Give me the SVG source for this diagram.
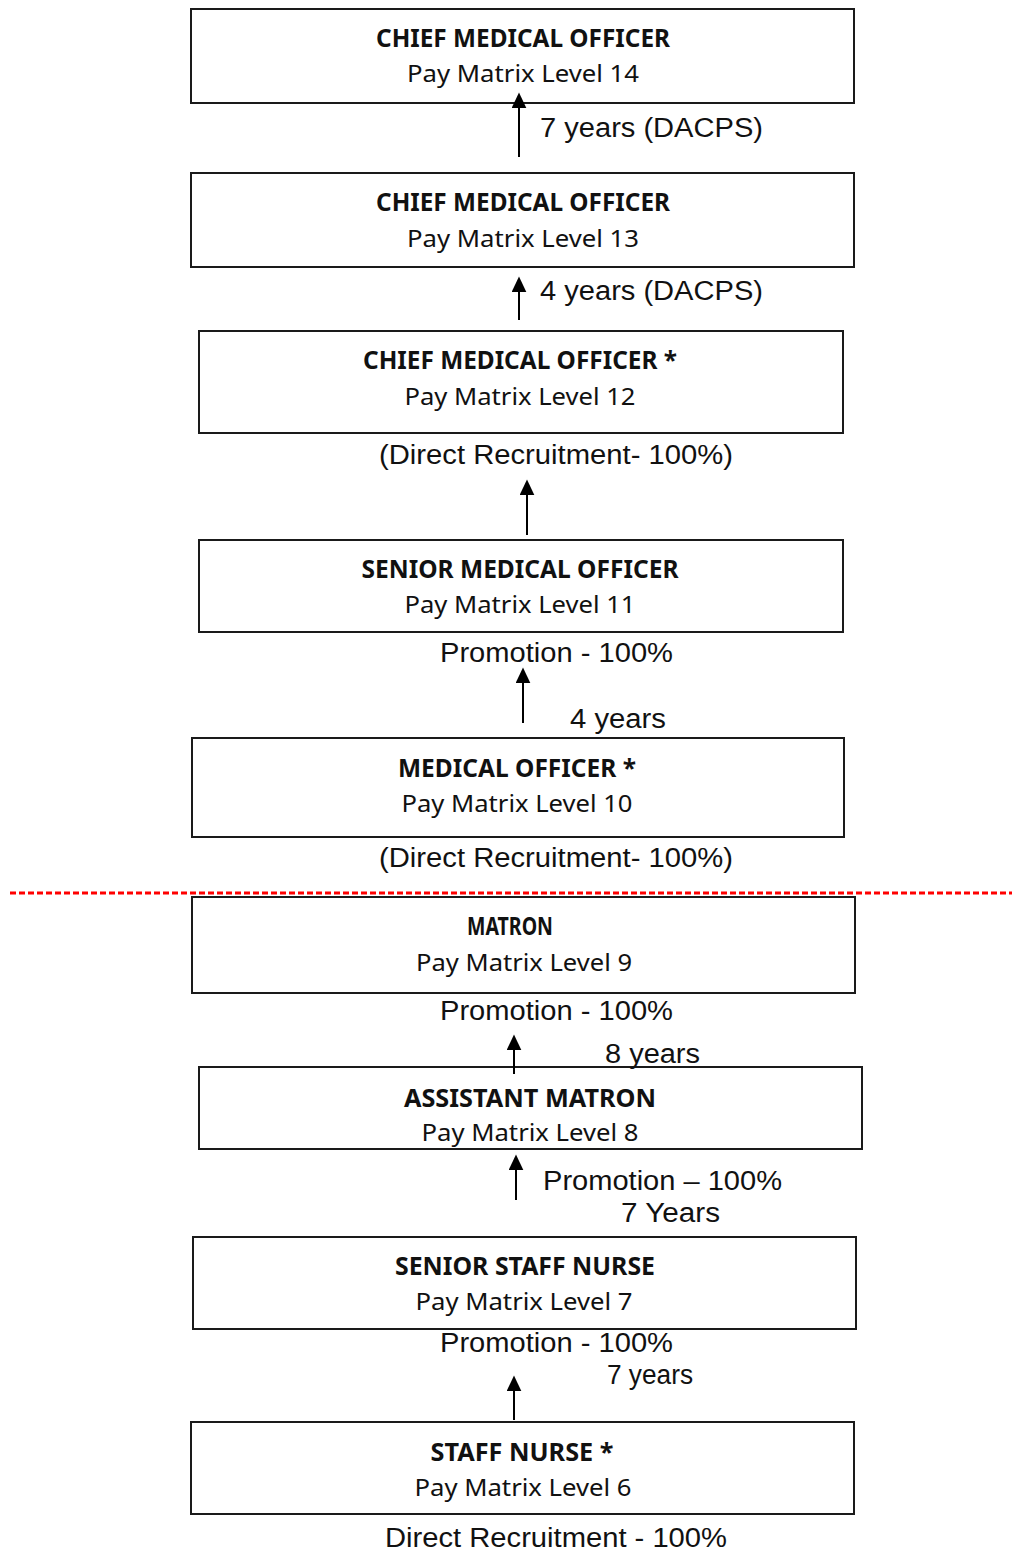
<svg xmlns="http://www.w3.org/2000/svg" width="1012" height="1552" viewBox="0 0 1012 1552">
<style>
.box{fill:#fff;stroke:#1a1a1a;stroke-width:2}
.t{font-family:"Noto Sans","Open Sans",sans-serif;font-weight:bold;font-size:25px;text-anchor:middle;fill:#111}
.s{font-family:"Noto Sans","Open Sans",sans-serif;font-size:23px;text-anchor:middle;fill:#111}
.l{font-family:"Liberation Sans",Arial,sans-serif;font-size:27px;fill:#111}
.c{stroke:#000;stroke-width:2;fill:none;marker-end:url(#ah)}
</style>
<defs>
<marker id="ah" viewBox="0 0 10 10" refX="4" refY="5" markerWidth="8" markerHeight="7.5" orient="auto" markerUnits="strokeWidth" preserveAspectRatio="none">
<path d="M0,0 L10,5 L0,10 z" fill="#000"/>
</marker>
</defs>
<rect width="1012" height="1552" fill="#fff"/>
<line x1="10" y1="893" x2="1012" y2="893" stroke="#f00" stroke-width="3" stroke-dasharray="6,3"/>
<g id="n14"><rect class="box" x="191" y="9" width="663" height="94"/>
<text class="t" x="523" y="47" textLength="294" lengthAdjust="spacingAndGlyphs">CHIEF MEDICAL OFFICER</text>
<text class="s" x="523" y="82" textLength="232" lengthAdjust="spacingAndGlyphs">Pay Matrix Level 14</text></g>
<g id="n13"><rect class="box" x="191" y="173" width="663" height="94"/>
<text class="t" x="523" y="211" textLength="294" lengthAdjust="spacingAndGlyphs">CHIEF MEDICAL OFFICER</text>
<text class="s" x="523" y="247" textLength="232" lengthAdjust="spacingAndGlyphs">Pay Matrix Level 13</text></g>
<g id="n12"><rect class="box" x="199" y="331" width="644" height="102"/>
<text class="t" x="520" y="369" textLength="314" lengthAdjust="spacingAndGlyphs">CHIEF MEDICAL OFFICER *</text>
<text class="s" x="520" y="405" textLength="231" lengthAdjust="spacingAndGlyphs">Pay Matrix Level 12</text></g>
<g id="n11"><rect class="box" x="199" y="540" width="644" height="92"/>
<text class="t" x="520" y="578" textLength="317" lengthAdjust="spacingAndGlyphs">SENIOR MEDICAL OFFICER</text>
<text class="s" x="520" y="613" textLength="231" lengthAdjust="spacingAndGlyphs">Pay Matrix Level 11</text></g>
<g id="n10"><rect class="box" x="192" y="738" width="652" height="99"/>
<text class="t" x="517" y="777" textLength="238" lengthAdjust="spacingAndGlyphs">MEDICAL OFFICER *</text>
<text class="s" x="517" y="812" textLength="231" lengthAdjust="spacingAndGlyphs">Pay Matrix Level 10</text></g>
<g id="n9"><rect class="box" x="192" y="897" width="663" height="96"/>
<text class="t" x="510" y="935" textLength="86" lengthAdjust="spacingAndGlyphs">MATRON</text>
<text class="s" x="524" y="971" textLength="216" lengthAdjust="spacingAndGlyphs">Pay Matrix Level 9</text></g>
<g id="n8"><rect class="box" x="199" y="1067" width="663" height="82"/>
<text class="t" x="530" y="1107" textLength="252" lengthAdjust="spacingAndGlyphs">ASSISTANT MATRON</text>
<text class="s" x="530" y="1141" textLength="217" lengthAdjust="spacingAndGlyphs">Pay Matrix Level 8</text></g>
<g id="n7"><rect class="box" x="193" y="1237" width="663" height="92"/>
<text class="t" x="525" y="1275" textLength="260" lengthAdjust="spacingAndGlyphs">SENIOR STAFF NURSE</text>
<text class="s" x="524" y="1310" textLength="217" lengthAdjust="spacingAndGlyphs">Pay Matrix Level 7</text></g>
<g id="n6"><rect class="box" x="191" y="1422" width="663" height="92"/>
<text class="t" x="522" y="1461" textLength="183" lengthAdjust="spacingAndGlyphs">STAFF NURSE *</text>
<text class="s" x="523" y="1496" textLength="217" lengthAdjust="spacingAndGlyphs">Pay Matrix Level 6</text></g>
<g id="connectors">
<line class="c" x1="519" y1="157" x2="519" y2="102"/>
<line class="c" x1="519" y1="320" x2="519" y2="286"/>
<line class="c" x1="527" y1="535" x2="527" y2="489"/>
<line class="c" x1="523" y1="723" x2="523" y2="677"/>
<line class="c" x1="514" y1="1074" x2="514" y2="1044"/>
<line class="c" x1="516" y1="1200" x2="516" y2="1164"/>
<line class="c" x1="514" y1="1420" x2="514" y2="1385"/>
</g>
<g id="labels">
<text class="l" x="540" y="137" textLength="223" lengthAdjust="spacingAndGlyphs">7 years (DACPS)</text>
<text class="l" x="540" y="300" textLength="223" lengthAdjust="spacingAndGlyphs">4 years (DACPS)</text>
<text class="l" x="379" y="464" textLength="354" lengthAdjust="spacingAndGlyphs">(Direct Recruitment- 100%)</text>
<text class="l" x="440" y="662" textLength="233" lengthAdjust="spacingAndGlyphs">Promotion - 100%</text>
<text class="l" x="570" y="728" textLength="96" lengthAdjust="spacingAndGlyphs">4 years</text>
<text class="l" x="379" y="867" textLength="354" lengthAdjust="spacingAndGlyphs">(Direct Recruitment- 100%)</text>
<text class="l" x="440" y="1020" textLength="233" lengthAdjust="spacingAndGlyphs">Promotion - 100%</text>
<text class="l" x="605" y="1063" textLength="95" lengthAdjust="spacingAndGlyphs">8 years</text>
<text class="l" x="543" y="1190" textLength="239" lengthAdjust="spacingAndGlyphs">Promotion – 100%</text>
<text class="l" x="621" y="1222" textLength="99" lengthAdjust="spacingAndGlyphs">7 Years</text>
<text class="l" x="440" y="1352" textLength="233" lengthAdjust="spacingAndGlyphs">Promotion - 100%</text>
<text class="l" x="607" y="1384" font-size="23" textLength="86" lengthAdjust="spacingAndGlyphs">7 years</text>
<text class="l" x="385" y="1547" textLength="342" lengthAdjust="spacingAndGlyphs">Direct Recruitment - 100%</text>
</g>
</svg>
